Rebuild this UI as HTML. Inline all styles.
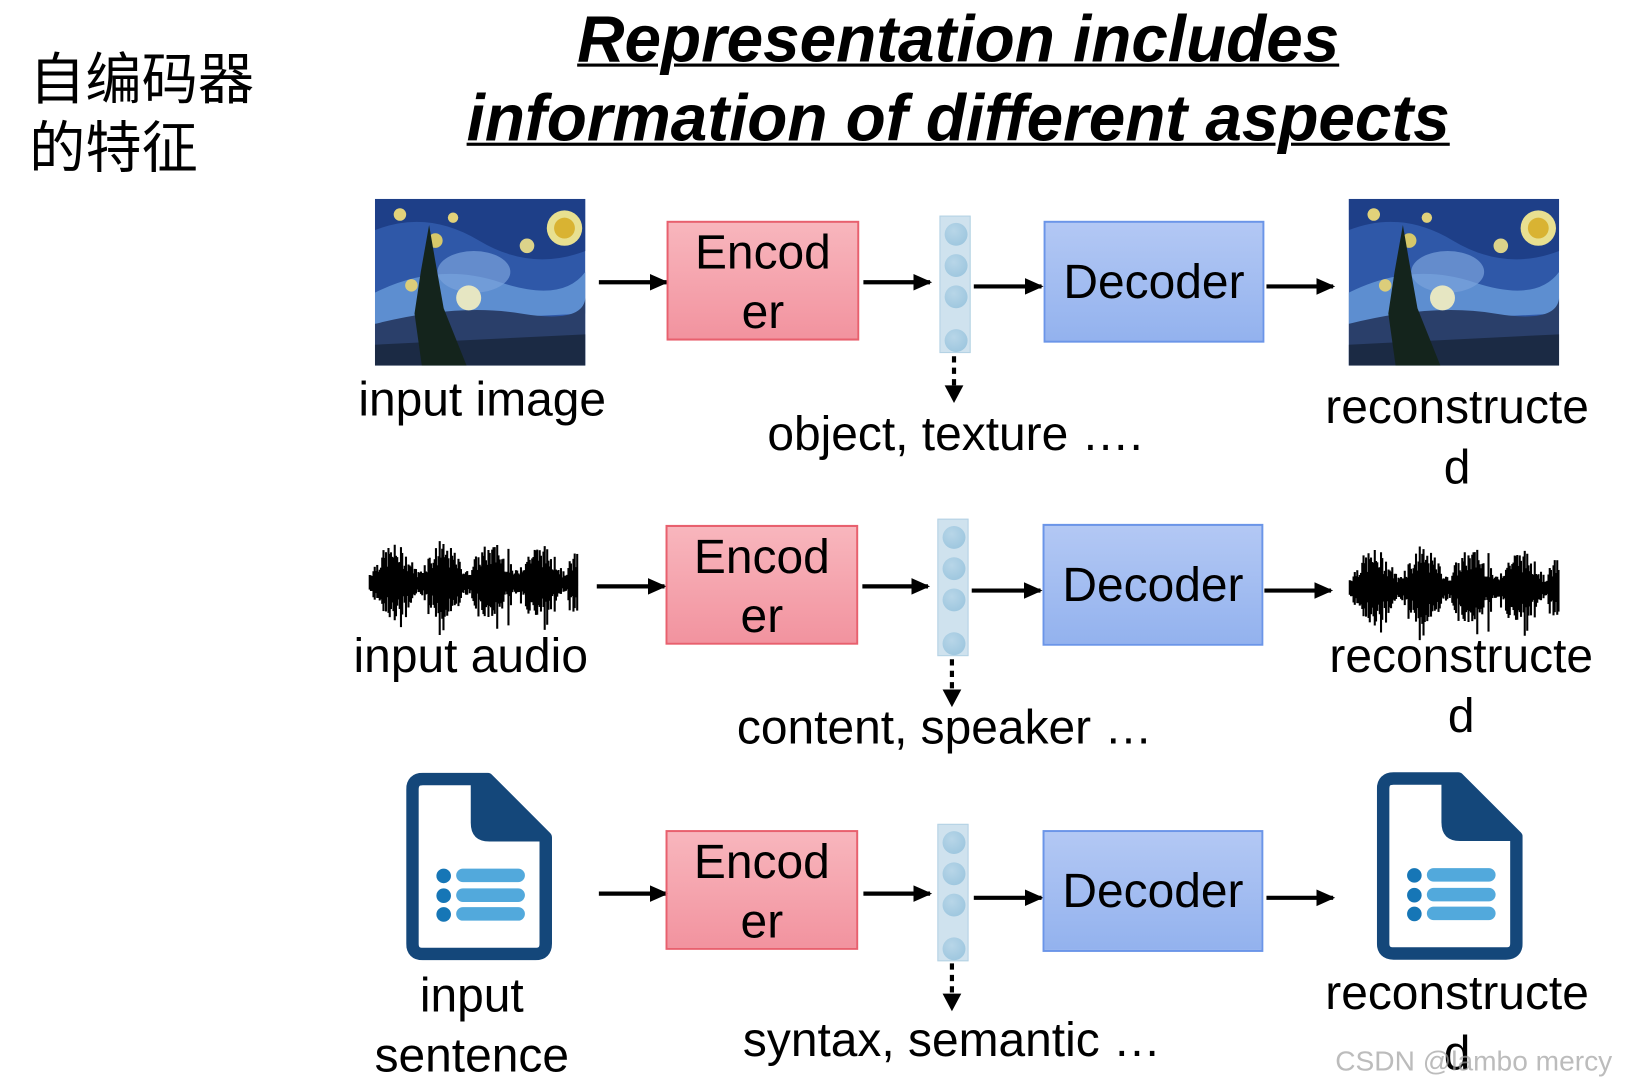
<!DOCTYPE html>
<html><head><meta charset="utf-8">
<style>
html,body{margin:0;padding:0;background:#fff;width:1630px;height:1089px;overflow:hidden}
#c{position:absolute;left:0;top:0;width:1565px;height:1046px;transform:scale(1.0415);transform-origin:0 0;font-family:"Liberation Sans",Arial,sans-serif}
.a{position:absolute}
.t{position:absolute;font-size:46px;color:#000;white-space:nowrap;line-height:58px;text-align:center}
.enc{position:absolute;width:185px;height:115px;border:2px solid #e8606e;background:linear-gradient(#f8b6bd,#f2939f);box-sizing:border-box;font-size:46px;text-align:center;line-height:57px}
.dec{position:absolute;width:212px;height:117px;border:2px solid #6b95e8;background:linear-gradient(#b3c8f4,#93b2ee);box-sizing:border-box;font-size:46px;text-align:center;line-height:113px}
.vec{position:absolute;width:30px;height:132px;background:#cfe2ee;border:1px solid #b4d2e4;box-sizing:border-box}
.vec i{position:absolute;left:4px;width:22px;height:22px;border-radius:50%;background:radial-gradient(circle at 40% 35%,#b8d6e8,#96c2dc)}
</style></head><body>
<div id="c">
<svg width="0" height="0" style="position:absolute">
<defs>
<symbol id="sn" viewBox="0 0 202 160">
<rect width="202" height="160" fill="#2f58a8"/>
<path d="M0 30 Q50 10 100 40 T202 50 L202 0 L0 0Z" fill="#1e3f88"/>
<path d="M0 90 Q60 60 120 80 T202 70 L202 110 L0 120Z" fill="#5d8ed0"/>
<ellipse cx="95" cy="70" rx="35" ry="20" fill="#7aa3dc" opacity=".7"/>
<path d="M0 120 Q80 100 140 110 T202 95 L202 160 L0 160Z" fill="#2a3f6a"/>
<path d="M0 140 L202 130 L202 160 L0 160Z" fill="#1b2a44"/>
<circle cx="182" cy="28" r="17" fill="#e8e090"/><circle cx="182" cy="28" r="10" fill="#d9b332"/>
<circle cx="24" cy="15" r="6" fill="#e2d27a"/><circle cx="75" cy="18" r="5" fill="#e2d27a"/>
<circle cx="58" cy="40" r="7" fill="#d6c86a"/><circle cx="146" cy="45" r="7" fill="#dcd38a"/>
<circle cx="90" cy="95" r="12" fill="#e6e6c2"/><circle cx="35" cy="83" r="6" fill="#dccd7a"/>
<path d="M45 160 L38 110 L44 70 L52 25 L58 60 L66 105 L80 140 L88 160Z" fill="#14241c"/>
</symbol>
<symbol id="doc" viewBox="0 0 140 180">
<path d="M16 6 H78 L134 62 V164 Q134 174 124 174 H16 Q6 174 6 164 V16 Q6 6 16 6Z" fill="#fff" stroke="#14477a" stroke-width="12" stroke-linejoin="round"/>
<path d="M62 2 V48 Q62 66 80 66 H138 V58 L82 2Z" fill="#14477a"/>
<circle cx="36" cy="99" r="7" fill="#1676b6"/><circle cx="36" cy="118" r="7" fill="#1676b6"/><circle cx="36" cy="136" r="7" fill="#1676b6"/>
<rect x="48" y="92" width="66" height="13" rx="6.5" fill="#52a9dc"/><rect x="48" y="111" width="66" height="13" rx="6.5" fill="#52a9dc"/><rect x="48" y="129" width="66" height="13" rx="6.5" fill="#52a9dc"/>
</symbol>
<marker id="ah" markerWidth="20" markerHeight="20" refX="16" refY="9" orient="auto" markerUnits="userSpaceOnUse"><path d="M0 1 L18 9 L0 17Z" fill="#000"/></marker>
</defs>
</svg>

<div class="a" style="left:28px;top:44px;font-size:54px;line-height:66px;font-family:'Liberation Sans','Noto Sans CJK SC',sans-serif">自编码器<br>的特征</div>
<div class="a" style="left:380px;width:1080px;top:0;text-align:center;font-size:63px;line-height:76px;font-weight:bold;font-style:italic;text-decoration:underline;text-decoration-thickness:3px">Representation includes<br>information of different aspects</div>

<svg class="a" style="left:0;top:0" width="1565" height="1046">
<g stroke="#000" stroke-width="4" fill="none">
<line x1="575" y1="271" x2="640" y2="271" marker-end="url(#ah)"/>
<line x1="829" y1="271" x2="893" y2="271" marker-end="url(#ah)"/>
<line x1="935" y1="275" x2="1000" y2="275" marker-end="url(#ah)"/>
<line x1="1216" y1="275" x2="1280" y2="275" marker-end="url(#ah)"/>
<line x1="573" y1="563" x2="638" y2="563" marker-end="url(#ah)"/>
<line x1="828" y1="563" x2="891" y2="563" marker-end="url(#ah)"/>
<line x1="933" y1="567" x2="999" y2="567" marker-end="url(#ah)"/>
<line x1="1214" y1="567" x2="1278" y2="567" marker-end="url(#ah)"/>
<line x1="575" y1="858" x2="640" y2="858" marker-end="url(#ah)"/>
<line x1="829" y1="858" x2="893" y2="858" marker-end="url(#ah)"/>
<line x1="935" y1="862" x2="1000" y2="862" marker-end="url(#ah)"/>
<line x1="1216" y1="862" x2="1280" y2="862" marker-end="url(#ah)"/>
<g stroke-dasharray="6 5">
<line x1="916" y1="342" x2="916" y2="374"/>
<line x1="914" y1="633" x2="914" y2="666"/>
<line x1="914" y1="925" x2="914" y2="958"/>
</g></g>
<path d="M907 370 L925 370 L916 387Z M905 662 L923 662 L914 679Z M905 954 L923 954 L914 971Z" fill="#000"/>
<use href="#sn" x="360" y="191" width="202" height="160"/>
<use href="#sn" x="1295" y="191" width="202" height="160"/>
<use href="#doc" x="390" y="742" width="140" height="180"/>
<use href="#doc" x="1322" y="741" width="140" height="181"/>
<g id="w1" stroke="#000" stroke-width="2"></g>
<g id="w2" stroke="#000" stroke-width="2"></g>
</svg>

<div class="enc" style="left:640px;top:212px">Encod<br>er</div>
<div class="enc" style="left:639px;top:504px">Encod<br>er</div>
<div class="enc" style="left:639px;top:797px">Encod<br>er</div>
<div class="dec" style="left:1002px;top:212px">Decoder</div>
<div class="dec" style="left:1001px;top:503px">Decoder</div>
<div class="dec" style="left:1001px;top:797px">Decoder</div>

<div class="vec" style="left:902px;top:207px"><i style="top:6px"></i><i style="top:36px"></i><i style="top:66px"></i><i style="top:108px"></i></div>
<div class="vec" style="left:900px;top:498px"><i style="top:6px"></i><i style="top:36px"></i><i style="top:66px"></i><i style="top:108px"></i></div>
<div class="vec" style="left:900px;top:791px"><i style="top:6px"></i><i style="top:36px"></i><i style="top:66px"></i><i style="top:108px"></i></div>

<div class="t" style="left:313px;width:300px;top:354px">input image</div>
<div class="t" style="left:667px;width:500px;top:387px">object, texture ….</div>
<div class="t" style="left:1249px;width:300px;top:361px">reconstructe<br>d</div>
<div class="t" style="left:302px;width:300px;top:600px">input audio</div>
<div class="t" style="left:657px;width:500px;top:669px">content, speaker …</div>
<div class="t" style="left:1253px;width:300px;top:600px">reconstructe<br>d</div>
<div class="t" style="left:303px;width:300px;top:926px">input<br>sentence</div>
<div class="t" style="left:664px;width:500px;top:969px">syntax, semantic …</div>
<div class="t" style="left:1249px;width:300px;top:924px">reconstructe<br>d</div>
<div class="a" style="left:1282px;top:1004px;font-size:27px;white-space:nowrap;color:rgba(160,160,160,0.7)">CSDN @lambo mercy</div>
</div>
<script>
function wave(id,x0,x1,cy){var g=document.getElementById(id),s='',seed=7;
function r(){seed=(seed*9301+49297)%233280;return seed/233280;}
for(var x=x0;x<=x1;x+=1.2){var p=(x-x0)/(x1-x0);var env=0.3+0.7*Math.abs(Math.sin(p*Math.PI*4.3));
var h=Math.max(4,env*38*(0.4+0.6*r())+(r()>0.95?15:0));var h2=h*(0.7+0.6*r());
s+='<line x1="'+x+'" x2="'+x+'" y1="'+(cy-h)+'" y2="'+(cy+h2)+'"/>';}
s+='<line x1="'+x0+'" x2="'+x1+'" y1="'+cy+'" y2="'+cy+'" stroke-width="5"/>';
g.innerHTML=s;}
wave('w1',355,555,560);wave('w2',1296,1497,565);
</script>
</body></html>
